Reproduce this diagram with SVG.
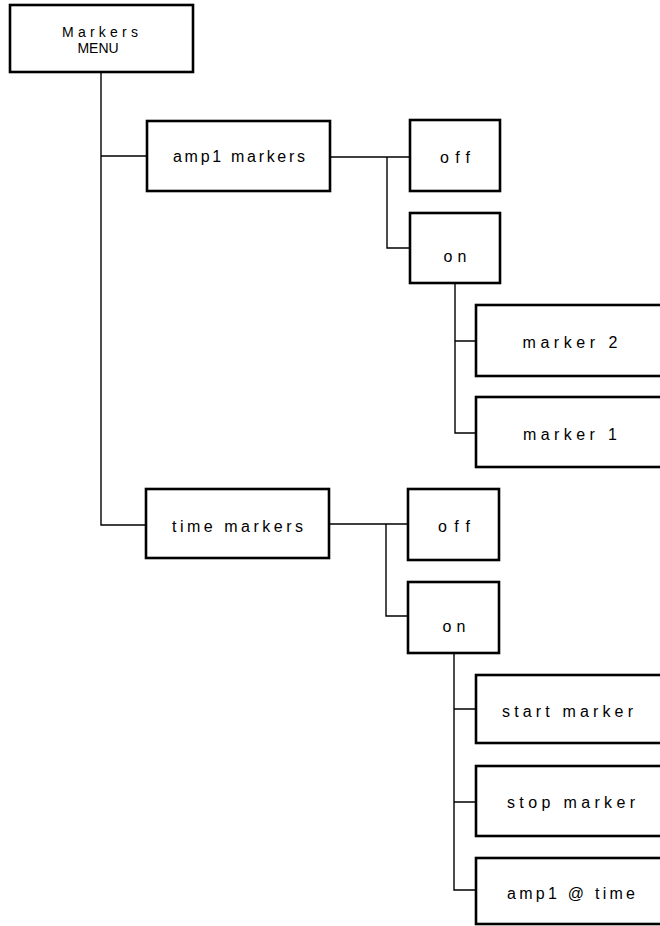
<svg xmlns="http://www.w3.org/2000/svg" width="660" height="926" viewBox="0 0 660 926">
<style>
.box{fill:#fff;stroke:#000;stroke-width:2.6}
.con{fill:none;stroke:#000;stroke-width:1.4}
text{font-family:"Liberation Sans","DejaVu Sans",sans-serif;font-size:16px;fill:#000;text-anchor:middle}
.hd{font-size:14px}
</style>
<rect width="660" height="926" fill="#fff"/>
<g id="connectors">
<path class="con" d="M101,72 V525 H146 M101,156 H147"/>
<path class="con" d="M330,157 H410 M387,157 V248 H410"/>
<path class="con" d="M455,283 V433 H476 M455,341 H476"/>
<path class="con" d="M329,524 H408 M386,524 V616 H408"/>
<path class="con" d="M454,653 V890 H476 M454,709 H476 M454,802 H476"/>
</g>
<g id="markers-menu">
<rect class="box" x="10" y="5" width="183" height="67"/>
<text class="hd" x="100" y="37" textLength="76" lengthAdjust="spacing">Markers</text>
<text class="hd" x="98" y="53">MENU</text>
</g>
<g id="amp1-markers">
<rect class="box" x="147" y="121" width="183" height="70"/>
<text x="239" y="162" textLength="132" lengthAdjust="spacing">amp1 markers</text>
</g>
<g id="amp1-off">
<rect class="box" x="410" y="120" width="90" height="71"/>
<text x="455" y="163" textLength="30" lengthAdjust="spacing">off</text>
</g>
<g id="amp1-on">
<rect class="box" x="410" y="213" width="90" height="70"/>
<text x="455" y="262" textLength="23" lengthAdjust="spacing">on</text>
</g>
<g id="marker-2">
<rect class="box" x="476" y="305" width="200" height="71"/>
<text x="570" y="348" textLength="95" lengthAdjust="spacing">marker 2</text>
</g>
<g id="marker-1">
<rect class="box" x="476" y="397" width="200" height="70"/>
<text x="570" y="440" textLength="94" lengthAdjust="spacing">marker 1</text>
</g>
<g id="time-markers">
<rect class="box" x="146" y="489" width="183" height="69"/>
<text x="237.5" y="532" textLength="131" lengthAdjust="spacing">time markers</text>
</g>
<g id="time-off">
<rect class="box" x="408" y="489" width="91" height="71"/>
<text x="454" y="532" textLength="32" lengthAdjust="spacing">off</text>
</g>
<g id="time-on">
<rect class="box" x="408" y="582" width="91" height="71"/>
<text x="454" y="632" textLength="23" lengthAdjust="spacing">on</text>
</g>
<g id="start-marker">
<rect class="box" x="476" y="675" width="200" height="68"/>
<text x="567.5" y="717" textLength="131" lengthAdjust="spacing">start marker</text>
</g>
<g id="stop-marker">
<rect class="box" x="476" y="766" width="200" height="70"/>
<text x="571" y="808" textLength="128" lengthAdjust="spacing">stop marker</text>
</g>
<g id="amp1-at-time">
<rect class="box" x="476" y="858" width="200" height="66"/>
<text x="571" y="899" textLength="128" lengthAdjust="spacing">amp1 @ time</text>
</g>
</svg>
